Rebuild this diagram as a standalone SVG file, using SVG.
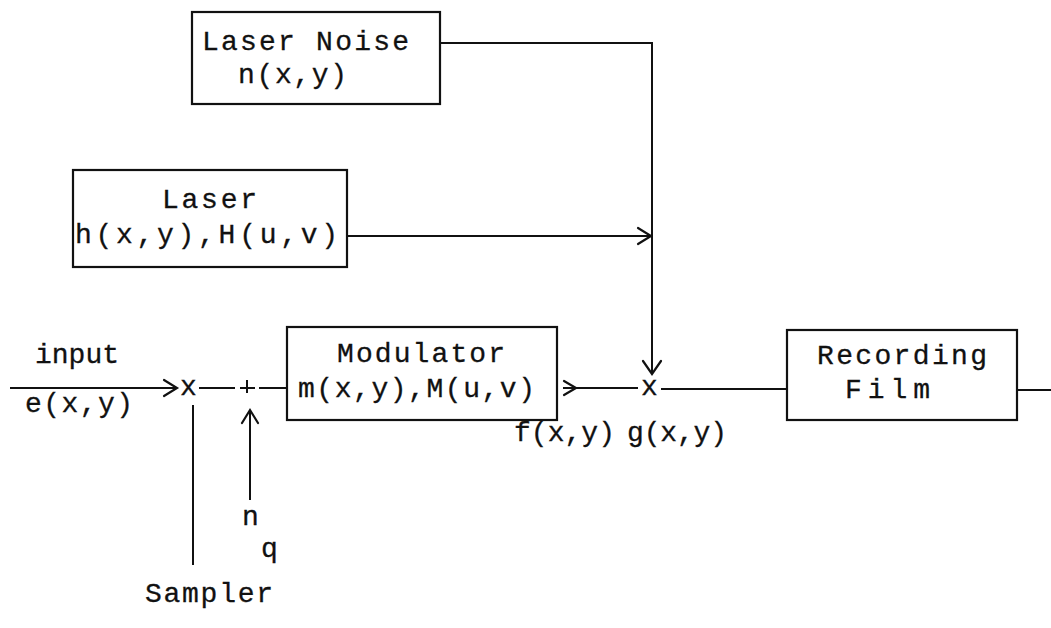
<svg xmlns="http://www.w3.org/2000/svg" width="1051" height="628" viewBox="0 0 1051 628">
<style>
text{font-family:"Liberation Mono","Courier New",monospace;font-size:28px;fill:#111;stroke:#111;stroke-width:0.3}
.box{fill:none;stroke:#111;stroke-width:2.2}
.ln{fill:none;stroke:#111;stroke-width:2}
.ah{fill:none;stroke:#111;stroke-width:2.2;stroke-linecap:round}
</style>
<rect width="1051" height="628" fill="#fff"/>
<g id="laser-noise">
<rect class="box" x="192" y="12" width="248" height="92"/>
<text x="202" y="50" textLength="207" lengthAdjust="spacing">Laser Noise</text>
<text x="238" y="83" textLength="109" lengthAdjust="spacing">n(x,y)</text>
</g>
<g id="laser">
<rect class="box" x="73" y="170" width="274" height="97"/>
<text x="162" y="208" textLength="95" lengthAdjust="spacing">Laser</text>
<text x="75" y="243" textLength="263" lengthAdjust="spacing">h(x,y),H(u,v)</text>
</g>
<g id="modulator">
<rect class="box" x="287" y="327" width="270" height="93"/>
<text x="337" y="362" textLength="168" lengthAdjust="spacing">Modulator</text>
<text x="298" y="397" textLength="237" lengthAdjust="spacing">m(x,y),M(u,v)</text>
</g>
<g id="recording-film">
<rect class="box" x="787" y="330" width="230" height="90"/>
<text x="817" y="364" textLength="170" lengthAdjust="spacing">Recording</text>
<text x="845" y="398" textLength="85" lengthAdjust="spacing">Film</text>
</g>
<g id="labels">
<text x="35" y="363" textLength="84" lengthAdjust="spacing">input</text>
<text x="25" y="412" textLength="108" lengthAdjust="spacing">e(x,y)</text>
<text x="180" y="395">x</text>
<text x="514" y="441" textLength="101" lengthAdjust="spacing">f(x,y)</text>
<text x="627" y="441" textLength="100" lengthAdjust="spacing">g(x,y)</text>
<text x="641" y="395">x</text>
<text x="242" y="525">n</text>
<text x="261" y="557">q</text>
<text x="145" y="602" textLength="128" lengthAdjust="spacing">Sampler</text>
</g>
<g id="connectors">
<path class="ln" d="M10 388 H176"/>
<path class="ah" d="M164 380 L177 388 L164 396"/>
<path class="ln" d="M199 388 H235 M240 388 H255 M247 380 V393 M259 388 H287"/>
<path class="ln" d="M193 405 V565"/>
<path class="ln" d="M250 500 V410"/>
<path class="ah" d="M242 423 L250 410 L258 423"/>
<path class="ln" d="M563 388 H638"/>
<path class="ah" d="M564 381 L576 388 L564 395"/>
<path class="ln" d="M661 389 H787"/>
<path class="ln" d="M1017 390 H1051"/>
<path class="ln" d="M440 43 H652 V374"/>
<path class="ah" d="M643 361 L652 374 L661 361"/>
<path class="ln" d="M347 236 H651"/>
<path class="ah" d="M638 228 L651 236 L638 244"/>
</g>
</svg>
